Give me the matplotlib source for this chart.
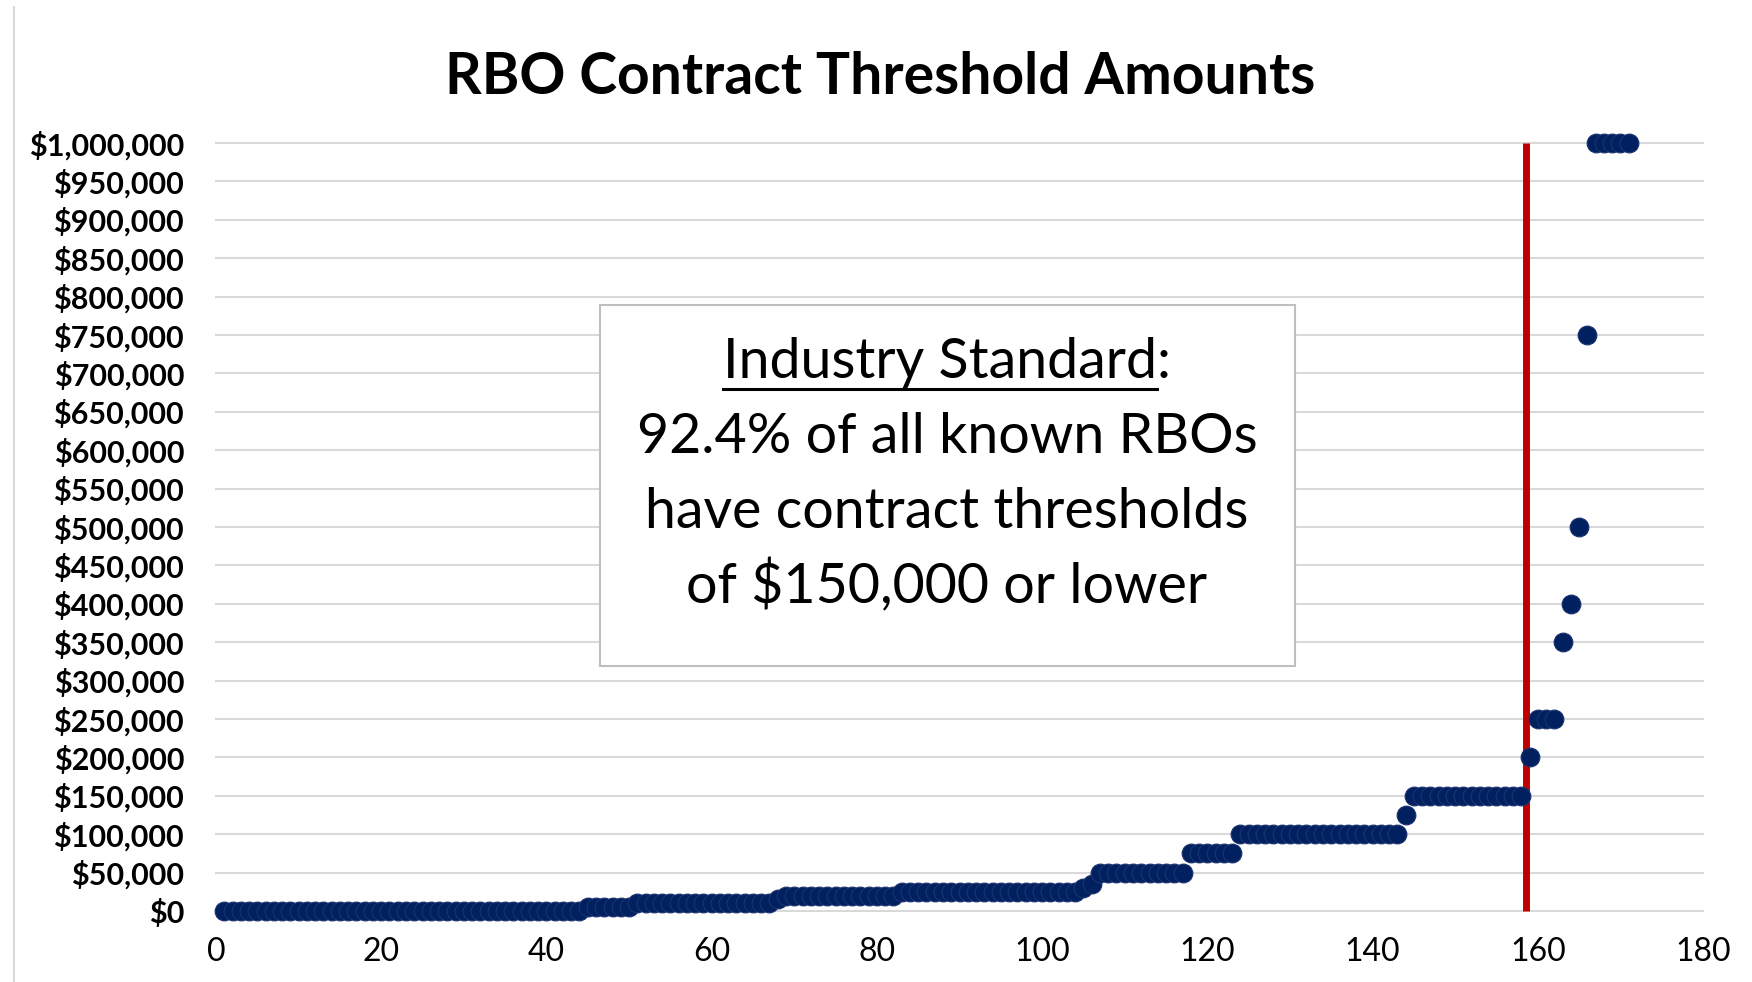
import matplotlib
matplotlib.use("Agg")
import matplotlib.pyplot as plt
import numpy as np
from matplotlib.lines import Line2D
from matplotlib.patches import Rectangle
from matplotlib.ticker import FuncFormatter

plt.rcParams["font.family"] = ["Lato", "DejaVu Sans"]

# sorted contract thresholds: each level and how many RBOs sit on it
threshold_levels = [0, 5000, 10000, 15000, 20000, 25000, 30000, 35000, 50000, 75000,
                    100000, 125000, 150000, 200000, 250000, 350000, 400000, 500000,
                    750000, 1000000]
rbo_counts = [44, 6, 17, 1, 14, 22, 1, 1, 11, 6,
              20, 1, 14, 1, 3, 1, 1, 1,
              1, 5]
cutoff_rank = 158.6  # red marker between last $150k RBO and the rest

title = "RBO Contract Threshold Amounts"
note_head = "Industry Standard:"
note_lines = ["92.4% of all known RBOs", "have contract thresholds", "of $150,000 or lower"]

W, H = 1752, 982
values = np.repeat(threshold_levels, rbo_counts)
ranks = np.arange(1, len(values) + 1)

fig = plt.figure(figsize=(W / 100, H / 100), dpi=100)
fig.patch.set_facecolor("white")
ax = fig.add_axes([216 / W, 1 - 911 / H, (1703 - 216) / W, (911 - 143) / H])

ax.set_xlim(0, 180)
ax.set_ylim(0, 1000000)
ax.set_xticks(np.arange(0, 181, 20))
ax.set_yticks(np.arange(0, 1000001, 50000))
ax.yaxis.set_major_formatter(FuncFormatter(lambda v, _: f"${v:,.0f}"))
for s in ax.spines.values():
    s.set_visible(False)
ax.tick_params(axis="both", length=0)
ax.tick_params(axis="y", pad=23, labelsize=22)
ax.tick_params(axis="x", pad=19, labelsize=23)
for lab in ax.get_yticklabels():
    lab.set_fontweight("bold")
ax.yaxis.grid(True, color="#D9D9D9", linewidth=1.5)
ax.set_axisbelow(True)
for gl in ax.get_ygridlines():
    gl.set_clip_on(False)

ax.vlines(cutoff_rank, 0, 1000000, color="#C00000", linewidth=5, zorder=2, clip_on=False)
ax.plot(ranks, values, linestyle="none", marker="o", markersize=13.5,
        color="#002060", markeredgecolor="#1A3370", markeredgewidth=0.8,
        zorder=3, clip_on=False)

fig.text(880 / W, 1 - 78 / H, title, ha="center", va="center",
         fontsize=41, fontweight="bold")

# annotation box
fig.add_artist(Rectangle((600 / W, 1 - 666 / H), 695 / W, 361 / H,
                         transform=fig.transFigure, facecolor="white",
                         edgecolor="#BFBFBF", linewidth=1.5, zorder=5))
cx = 947 / W
baselines = [378, 453, 528, 603]
head = fig.text(cx, 1 - baselines[0] / H, note_head, ha="center", va="baseline",
                fontsize=40, zorder=6)
for y, line in zip(baselines[1:], note_lines):
    fig.text(cx, 1 - y / H, line, ha="center", va="baseline", fontsize=40, zorder=6)

# underline "Industry Standard" (not the colon)
r = fig.canvas.get_renderer()
bb = head.get_window_extent(r)
tmp = fig.text(0, 0, ":", fontsize=40)
colon_w = tmp.get_window_extent(r).width
tmp.remove()
uy = 1 - 389 / H
fig.add_artist(Line2D([bb.x0 / W, (bb.x1 - colon_w) / W], [uy, uy],
                      transform=fig.transFigure, color="black", linewidth=2.2, zorder=6))

# chart-area border remnant on the left edge
fig.add_artist(Line2D([14 / W, 14 / W], [0, 1 - 7 / H], transform=fig.transFigure,
                      color="#D9D9D9", linewidth=1.5))

fig.savefig("out.png", dpi=100)
